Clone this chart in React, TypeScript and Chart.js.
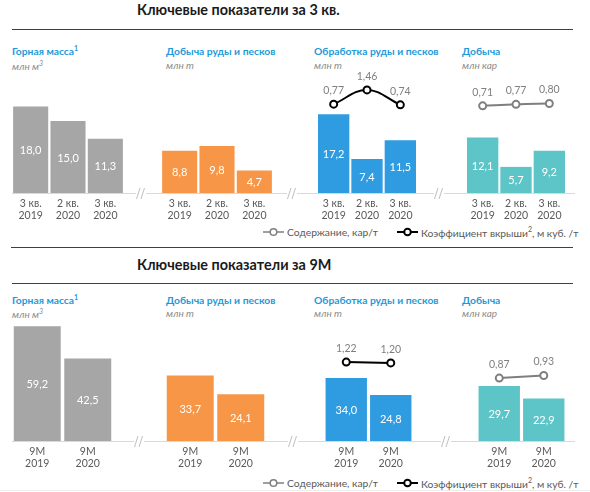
import React, { useEffect, useRef } from "react";
import { Chart, registerables } from "chart.js";

Chart.register(...registerables);

const FONT = "Lato, 'Open Sans', sans-serif";

// ---- Data: 3rd quarter ----
const q3Categories = [["3 кв.", "2019"], ["2 кв.", "2020"], ["3 кв.", "2020"]];
const q3MiningMass = [18.0, 15.0, 11.3];
const q3OreMining = [8.8, 9.8, 4.7];
const q3OreProcessing = [17.2, 7.4, 11.5];
const q3Production = [12.1, 5.7, 9.2];
const q3StrippingRatio = [0.77, 1.46, 0.74];
const q3Grade = [0.71, 0.77, 0.8];

// ---- Data: 9 months ----
const m9Categories = [["9М", "2019"], ["9М", "2020"]];
const m9MiningMass = [59.2, 42.5];
const m9OreMining = [33.7, 24.1];
const m9OreProcessing = [34.0, 24.8];
const m9Production = [29.7, 22.9];
const m9StrippingRatio = [1.22, 1.2];
const m9Grade = [0.87, 0.93];

const GRAY = "#a6a6a6";
const ORANGE = "#f79646";
const BLUE = "#2f9be0";
const TEAL = "#5dc5c8";
const TITLE_BLUE = "#1d9ad9";
const LINE_BLACK = "#000000";
const LINE_GRAY = "#7f7f7f";

type PanelProps = {
  left: number;
  top: number;
  width: number;
  height: number;
  padBottom: number;
  categories: string[][];
  values: number[];
  color: string;
  yMax: number;
  barPct: number;
  catOffsets: [number, number];
  line?: number[];
  lineColor?: string;
  y2Min?: number;
  y2Max?: number;
};

function fmt(v: number, d: number) {
  return v.toFixed(d).replace(".", ",");
}

function Panel(p: PanelProps) {
  const ref = useRef<HTMLCanvasElement>(null);
  useEffect(() => {
    const labelsPlugin = {
      id: "panelLabels",
      afterDatasetsDraw(chart: any) {
        const ctx = chart.ctx;
        ctx.save();
        ctx.textAlign = "center";
        ctx.textBaseline = "middle";
        // bar values
        const barMeta = chart.getDatasetMeta(0);
        ctx.font = `11px ${FONT}`;
        ctx.fillStyle = "#ffffff";
        barMeta.data.forEach((el: any, i: number) => {
          ctx.fillText(fmt(p.values[i], 1), el.x, (el.y + el.base) / 2 + 1);
        });
        // category labels
        const xs = chart.scales.x;
        ctx.fillStyle = "#595959";
        ctx.font = `10.5px ${FONT}`;
        p.categories.forEach((c, i) => {
          const x = xs.getPixelForValue(i);
          ctx.fillText(c[0], x, chart.chartArea.bottom + p.catOffsets[0]);
          ctx.fillText(c[1], x, chart.chartArea.bottom + p.catOffsets[1]);
        });
        // line labels
        if (p.line) {
          const lm = chart.getDatasetMeta(1);
          ctx.fillStyle = "#7f7f7f";
          ctx.font = `10.5px ${FONT}`;
          lm.data.forEach((el: any, i: number) => {
            ctx.fillText(fmt(p.line![i], 2), el.x, el.y - 13.5);
          });
        }
        ctx.restore();
      },
    };
    const datasets: any[] = [
      {
        type: "bar",
        data: p.values,
        backgroundColor: p.color,
        barPercentage: p.barPct,
        categoryPercentage: 1,
        yAxisID: "y",
        order: 2,
      },
    ];
    if (p.line) {
      datasets.push({
        type: "line",
        data: p.line,
        yAxisID: "y2",
        borderColor: p.lineColor,
        borderWidth: 2,
        pointRadius: 3.5,
        pointBorderWidth: 2,
        pointBackgroundColor: "#ffffff",
        pointBorderColor: p.lineColor,
        tension: 0.4,
        order: 1,
      });
    }
    const chart = new Chart(ref.current as HTMLCanvasElement, {
      type: "bar",
      data: { labels: p.categories.map((c) => c.join(" ")), datasets },
      options: {
        animation: false,
        responsive: false,
        maintainAspectRatio: false,
        devicePixelRatio: 1,
        layout: { padding: { top: 0, left: 0, right: 0, bottom: p.padBottom } },
        plugins: { legend: { display: false }, tooltip: { enabled: false } },
        scales: {
          x: { display: false, offset: true },
          y: { display: false, min: 0, max: p.yMax },
          y2: { display: false, min: p.y2Min ?? 0, max: p.y2Max ?? 1 },
        },
      } as any,
      plugins: [labelsPlugin],
    });
    return () => chart.destroy();
  }, []);
  return (
    <canvas
      ref={ref}
      width={p.width}
      height={p.height}
      style={{ position: "absolute", left: p.left, top: p.top, width: p.width, height: p.height }}
    />
  );
}

function T(props: {
  x: number;
  y: number;
  size: number;
  color: string;
  bold?: boolean;
  italic?: boolean;
  children: React.ReactNode;
}) {
  return (
    <div
      style={{
        position: "absolute",
        left: props.x,
        top: props.y,
        transform: "translateY(-50%)",
        fontSize: props.size,
        color: props.color,
        fontWeight: props.bold ? 700 : 400,
        fontStyle: props.italic ? "italic" : "normal",
        whiteSpace: "nowrap",
        lineHeight: 1,
        fontFamily: FONT,
      }}
    >
      {props.children}
    </div>
  );
}

function HLine(props: { x1: number; x2: number; y: number; color: string; h?: number }) {
  return (
    <div
      style={{
        position: "absolute",
        left: props.x1,
        top: props.y,
        width: props.x2 - props.x1,
        height: props.h ?? 1,
        background: props.color,
      }}
    />
  );
}

function Break(props: { x: number; y: number }) {
  return (
    <svg
      width={14}
      height={16}
      style={{ position: "absolute", left: props.x - 7, top: props.y - 8 }}
    >
      <rect x={2} y={6} width={10} height={4} fill="#ffffff" />
      <line x1={2.5} y1={14} x2={6} y2={3} stroke="#bfbfbf" strokeWidth={1} />
      <line x1={7} y1={14} x2={10.5} y2={3} stroke="#bfbfbf" strokeWidth={1} />
    </svg>
  );
}

function LegendItem(props: { x: number; y: number; color: string; w: number; children: React.ReactNode }) {
  return (
    <>
      <svg width={22} height={10} style={{ position: "absolute", left: props.x, top: props.y - 5 }}>
        <line x1={0} y1={5} x2={21} y2={5} stroke={props.color} strokeWidth={props.w} />
        <circle cx={10.5} cy={5} r={3.3} fill="#ffffff" stroke={props.color} strokeWidth={props.w} />
      </svg>
      <T x={props.x + 24} y={props.y} size={10.3} color="#595959">
        {props.children}
      </T>
    </>
  );
}

function Section(props: {
  titleY: number;
  title: string;
  ruleY: number;
  headY: number;
  unitY: number;
  baseY: number;
  breaks: number[];
  legendY: number;
}) {
  const sup = { fontSize: 7, verticalAlign: 4 };
  const heads = [
    { x: 12, t: <>Горная масса<sup style={sup}>1</sup></>, u: <>млн м<sup style={sup}>3</sup></> },
    { x: 166, t: <>Добыча руды и песков</>, u: <>млн т</> },
    { x: 314, t: <>Обработка руды и песков</>, u: <>млн т</> },
    { x: 462, t: <>Добыча</>, u: <>млн кар</> },
  ];
  return (
    <>
      <T x={137} y={props.titleY} size={14.4} color="#1a1a1a" bold>
        {props.title}
      </T>
      <HLine x1={12} x2={573} y={props.ruleY} color="#404040" />
      {heads.map((h, i) => (
        <React.Fragment key={i}>
          <T x={h.x} y={props.headY} size={10.3} color={TITLE_BLUE} bold>
            {h.t}
          </T>
          <T x={h.x} y={props.unitY} size={10} color="#8c8c8c" italic>
            {h.u}
          </T>
        </React.Fragment>
      ))}
      <HLine x1={12} x2={575} y={props.baseY} color="#d9d9d9" />
      {props.breaks.map((b, i) => (
        <Break key={i} x={b} y={props.baseY} />
      ))}
      <LegendItem x={263} y={props.legendY} color={LINE_GRAY} w={1.5}>
        Содержание, кар/т
      </LegendItem>
      <LegendItem x={397} y={props.legendY} color={LINE_BLACK} w={2}>
        Коэффициент вкрыши<sup style={{ fontSize: 7, verticalAlign: 5 }}>2</sup>, м куб. /т
      </LegendItem>
    </>
  );
}

export default function App() {
  // top section geometry
  const tTop = 60;
  const tH = 163;
  const tPad = 30;
  const tYMax = 133 / 4.8;
  // bottom section geometry
  const bTop = 310;
  const bH = 161;
  const bPad = 30;
  const bYMax = 131 / 1.94;

  return (
    <div
      style={{
        position: "absolute",
        left: 0,
        top: 0,
        width: 590,
        height: 492,
        background: "#ffffff",
        overflow: "hidden",
        fontFamily: FONT,
      }}
    >
      <Section
        titleY={10}
        title="Ключевые показатели за 3 кв."
        ruleY={29}
        headY={51}
        unitY={64.5}
        baseY={193}
        breaks={[141, 292, 439]}
        legendY={232}
      />
      <HLine x1={11} x2={573} y={247} color="#404040" />
      <Section
        titleY={265}
        title="Ключевые показатели за 9М"
        ruleY={283}
        headY={299.5}
        unitY={312.5}
        baseY={441}
        breaks={[139, 293, 446]}
        legendY={483}
      />
      <HLine x1={0} x2={590} y={490} color="#ececec" />

      <Panel left={12} top={tTop} width={112} height={tH} padBottom={tPad} categories={q3Categories}
        values={q3MiningMass} color={GRAY} yMax={tYMax} barPct={0.94} catOffsets={[11, 23]} />
      <Panel left={161} top={tTop} width={112} height={tH} padBottom={tPad} categories={q3Categories}
        values={q3OreMining} color={ORANGE} yMax={tYMax} barPct={0.94} catOffsets={[11, 23]} />
      <Panel left={311} top={tTop} width={112} height={tH} padBottom={tPad} categories={q3Categories}
        values={q3OreProcessing} color={BLUE} yMax={tYMax} barPct={0.94} catOffsets={[11, 23]}
        line={q3StrippingRatio} lineColor={LINE_BLACK} y2Min={-3.516} y2Max={2.613} />
      <Panel left={460} top={tTop} width={112} height={tH} padBottom={tPad} categories={q3Categories}
        values={q3Production} color={TEAL} yMax={tYMax} barPct={0.94} catOffsets={[11, 23]}
        line={q3Grade} lineColor={LINE_GRAY} y2Min={-2.708} y2Max={2.273} />

      <Panel left={12} top={bTop} width={101} height={bH} padBottom={bPad} categories={m9Categories}
        values={m9MiningMass} color={GRAY} yMax={bYMax} barPct={0.93} catOffsets={[11, 22.5]} />
      <Panel left={165} top={bTop} width={101} height={bH} padBottom={bPad} categories={m9Categories}
        values={m9OreMining} color={ORANGE} yMax={bYMax} barPct={0.93} catOffsets={[11, 22.5]} />
      <Panel left={318} top={bTop} width={101} height={bH} padBottom={bPad} categories={m9Categories}
        values={m9OreProcessing} color={BLUE} yMax={bYMax} barPct={0.93} catOffsets={[11, 22.5]}
        line={m9StrippingRatio} lineColor={LINE_BLACK} y2Min={-0.618} y2Max={2.293} />
      <Panel left={471} top={bTop} width={101} height={bH} padBottom={bPad} categories={m9Categories}
        values={m9Production} color={TEAL} yMax={bYMax} barPct={0.93} catOffsets={[11, 22.5]}
        line={m9Grade} lineColor={LINE_GRAY} y2Min={-0.596} y2Max={2.316} />
    </div>
  );
}
